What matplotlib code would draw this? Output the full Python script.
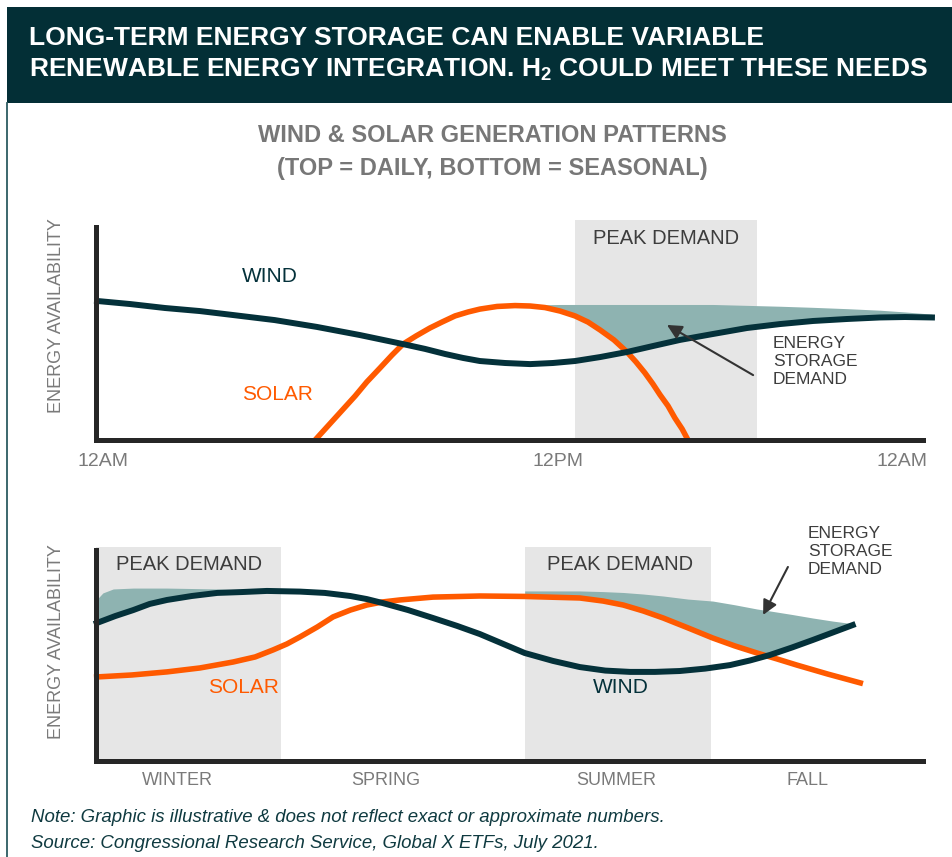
import matplotlib
matplotlib.use("Agg")
import matplotlib.pyplot as plt
from matplotlib.patches import Rectangle
from matplotlib.lines import Line2D

plt.rcParams['font.family'] = ['Liberation Sans', 'DejaVu Sans']
plt.rcParams['mathtext.default'] = 'regular'

W, H = 953, 857

# colours
HEADER = '#032f36'
WIND_C = '#04313a'
SOLAR_C = '#ff5a00'
STORE_C = '#8eb3b1'
PEAK_C = '#e6e6e6'
AXIS_C = '#262626'
GREY_TXT = '#7a7a7a'
DARK_TXT = '#3d3d3d'

# ---- daily pattern (x = hour of day, y = availability 0-10) ----
day_wind_x = [0.03, 0.99, 2.0, 3.02, 3.98, 5.19, 6.41, 7.66, 8.91, 9.55, 10.13, 10.65, 11.14, 11.87,
              12.6, 13.26, 13.9, 14.63, 15.41, 16.16, 16.95, 17.91, 18.89, 19.85, 20.81, 21.79,
              22.75, 23.48, 24.26]
day_wind_y = [6.32, 6.18, 6.0, 5.86, 5.68, 5.45, 5.14, 4.77, 4.36, 4.14, 3.91, 3.73, 3.59, 3.5,
              3.45, 3.5, 3.59, 3.77, 4.0, 4.27, 4.55, 4.82, 5.09, 5.27, 5.41, 5.5,
              5.57, 5.59, 5.57]

day_solar_x = [6.36, 6.65, 6.94, 7.23, 7.52, 7.86, 8.24, 8.59, 8.91, 9.29, 9.69, 10.04, 10.42, 10.8,
               11.14, 11.64, 12.16, 12.6, 13.03, 13.47, 13.9, 14.28, 14.63, 15.03, 15.41, 15.67,
               15.93, 16.16, 16.37, 16.6, 16.8, 17.01, 17.18]
day_solar_y = [0.0, 0.5, 1.0, 1.5, 2.0, 2.64, 3.27, 3.86, 4.36, 4.73, 5.09, 5.36, 5.64, 5.82,
               5.95, 6.07, 6.11, 6.09, 6.02, 5.86, 5.64, 5.36, 5.0, 4.55, 4.0, 3.55,
               3.05, 2.55, 2.05, 1.55, 1.0, 0.5, 0.0]

day_store_x = [12.16, 12.6, 13.03, 13.47, 13.9, 14.28, 14.63, 15.03, 15.41, 16.16, 16.95, 17.91,
               18.89, 19.85, 20.81, 21.79, 22.75, 23.48, 24.26]
day_store_hi = [6.11, 6.14, 6.15, 6.16, 6.16, 6.16, 6.16, 6.16, 6.16, 6.16, 6.16, 6.16,
                6.12, 6.08, 6.03, 5.97, 5.9, 5.82, 5.72]
day_store_lo = [6.11, 6.09, 6.02, 5.86, 5.64, 5.36, 5.0, 4.55, 4.0, 4.27, 4.55, 4.82,
                5.09, 5.27, 5.41, 5.5, 5.57, 5.59, 5.57]

day_peak = (13.9, 19.18)
day_tick_pos = [0.2, 13.4, 23.4]
day_tick_labels = ['12AM', '12PM', '12AM']

# ---- seasonal pattern (x = month, y = availability 0-10) ----
yr_wind_x = [0.01, 0.28, 0.54, 0.78, 1.03, 1.39, 1.76, 2.12, 2.48, 2.96, 3.32, 3.69, 3.93, 4.16,
             4.53, 4.89, 5.24, 5.57, 5.91, 6.22, 6.63, 7.02, 7.39, 7.75, 8.11, 8.47, 8.84, 9.2,
             9.49, 9.78, 10.1, 10.4, 10.69, 10.98]
yr_wind_y = [6.27, 6.59, 6.86, 7.14, 7.32, 7.5, 7.64, 7.68, 7.73, 7.7, 7.64, 7.5, 7.36, 7.18,
             6.86, 6.5, 6.14, 5.77, 5.32, 4.91, 4.55, 4.27, 4.11, 4.05, 4.05, 4.09, 4.2, 4.36,
             4.57, 4.82, 5.16, 5.5, 5.84, 6.18]

yr_solar_x = [0.01, 0.52, 1.03, 1.51, 1.99, 2.31, 2.57, 2.77, 2.96, 3.21, 3.44, 3.69, 3.93, 4.16,
              4.41, 4.89, 5.57, 6.22, 7.02, 7.36, 7.65, 7.94, 8.23, 8.59, 8.95, 9.27, 9.59, 9.88,
              10.17, 10.62, 11.09]
yr_solar_y = [3.82, 3.91, 4.05, 4.23, 4.5, 4.73, 5.05, 5.32, 5.64, 6.09, 6.55, 6.86, 7.09, 7.23,
              7.32, 7.45, 7.5, 7.48, 7.41, 7.27, 7.09, 6.82, 6.5, 6.05, 5.59, 5.23, 4.91, 4.64,
              4.36, 3.95, 3.55]

yr_store1_x = [0.0, 0.1, 0.25, 0.54, 1.03, 1.76, 2.48]
yr_store1_hi = [7.3, 7.64, 7.82, 7.86, 7.86, 7.82, 7.73]
yr_store1_lo = [6.27, 6.38, 6.55, 6.86, 7.32, 7.64, 7.73]

yr_store2_x = [6.22, 7.02, 7.36, 7.65, 7.94, 8.23, 8.59, 8.95, 9.27, 9.59, 9.78, 10.1, 10.4, 10.69, 10.98]
yr_store2_hi = [7.73, 7.73, 7.7, 7.66, 7.59, 7.5, 7.36, 7.27, 7.1, 6.91, 6.82, 6.66, 6.5, 6.36, 6.24]
yr_store2_lo = [7.48, 7.41, 7.27, 7.09, 6.82, 6.5, 6.05, 5.59, 5.23, 4.91, 4.82, 5.16, 5.5, 5.84, 6.18]

yr_peaks = [(0.0, 2.68), (6.22, 8.92)]
season_pos = [1.18, 4.21, 7.55, 10.32]
season_labels = ['WINTER', 'SPRING', 'SUMMER', 'FALL']


def fx(px):
    return px / W


def fy(py):
    return 1 - py / H


fig = plt.figure(figsize=(W / 100, H / 100), dpi=100)
fig.patch.set_facecolor('white')

# header band + left border
fig.add_artist(Rectangle((fx(7), fy(103)), fx(W) - fx(7), fy(7) - fy(103),
                         transform=fig.transFigure, color=HEADER, lw=0))
fig.add_artist(Line2D([fx(7.5), fx(7.5)], [fy(103), 0], transform=fig.transFigure,
                      color='#2c5c61', lw=1.3))
fig.text(fx(29), fy(38), 'LONG-TERM ENERGY STORAGE CAN ENABLE VARIABLE',
         color='white', fontsize=19, fontweight='bold', va='center', ha='left')
fig.text(fx(29), fy(70), 'RENEWABLE ENERGY INTEGRATION. H$_2$ COULD MEET THESE NEEDS',
         color='white', fontsize=19, fontweight='bold', va='center', ha='left')

fig.text(fx(492), fy(136), 'WIND & SOLAR GENERATION PATTERNS', color='#777777',
         fontsize=17, fontweight='bold', ha='center', va='center')
fig.text(fx(492), fy(168), '(TOP = DAILY, BOTTOM = SEASONAL)', color='#777777',
         fontsize=17, fontweight='bold', ha='center', va='center')


def style_axes(ax, ytop):
    for s in ['top', 'right']:
        ax.spines[s].set_visible(False)
    for s in ['left', 'bottom']:
        ax.spines[s].set_linewidth(3.6)
        ax.spines[s].set_color(AXIS_C)
        ax.spines[s].set_capstyle('projecting')
        ax.spines[s].set_zorder(4)
    ax.spines['left'].set_bounds(0, ytop)
    ax.set_yticks([])
    ax.tick_params(axis='x', length=0, labelsize=14, labelcolor=GREY_TXT, pad=9)
    ax.set_facecolor('none')


# ---------------- top: daily ----------------
ax1 = fig.add_axes([fx(96), fy(440), fx(923) - fx(96), fy(220) - fy(440)])
ax1.set_xlim(0, 24)
ax1.set_ylim(0, 10)
style_axes(ax1, 9.7)
ax1.axvspan(day_peak[0], day_peak[1], color=PEAK_C, lw=0, zorder=0)
ax1.fill_between(day_store_x, day_store_lo, day_store_hi, color=STORE_C, lw=0,
                 zorder=1, clip_on=False)
ax1.plot(day_wind_x, day_wind_y, color=WIND_C, lw=4.3, solid_joinstyle='round',
         zorder=3, clip_on=False)
ax1.plot(day_solar_x, day_solar_y, color=SOLAR_C, lw=4.0, solid_joinstyle='round',
         solid_capstyle='butt', zorder=2, clip_on=False)
ax1.set_xticks(day_tick_pos, day_tick_labels)
ax1.text(4.24, 7.41, 'WIND', color=WIND_C, fontsize=15, va='center')
ax1.text(4.24, 2.05, 'SOLAR', color=SOLAR_C, fontsize=15, va='center')
ax1.text(16.54, 9.18, 'PEAK DEMAND', color=DARK_TXT, fontsize=14.5, ha='center', va='center')
ax1.text(19.65, 3.59, 'ENERGY\nSTORAGE\nDEMAND', color=DARK_TXT, fontsize=12.5,
         ha='left', va='center', linespacing=1.25)
ax1.annotate('', xy=(16.57, 5.23), xytext=(19.07, 2.95),
             arrowprops=dict(arrowstyle='-|>', color='#333333', lw=1.5,
                             mutation_scale=22, shrinkA=0, shrinkB=0), zorder=5)
fig.text(fx(57), fy(316), 'ENERGY AVAILABILITY', rotation=90, color=GREY_TXT,
         fontsize=13, ha='center', va='center')

# ---------------- bottom: seasonal ----------------
ax2 = fig.add_axes([fx(96), fy(761), fx(923) - fx(96), fy(541) - fy(761)])
ax2.set_xlim(0, 12)
ax2.set_ylim(0, 10)
style_axes(ax2, 9.6)
for x0, x1 in yr_peaks:
    ax2.fill_between([x0, x1], 0, 9.75, color=PEAK_C, lw=0, zorder=0)
ax2.fill_between(yr_store1_x, yr_store1_lo, yr_store1_hi, color=STORE_C, lw=0, zorder=1)
ax2.fill_between(yr_store2_x, yr_store2_lo, yr_store2_hi, color=STORE_C, lw=0, zorder=1)
ax2.plot(yr_solar_x, yr_solar_y, color=SOLAR_C, lw=4.0, solid_joinstyle='round',
         zorder=2, clip_on=False)
ax2.plot(yr_wind_x, yr_wind_y, color=WIND_C, lw=4.3, solid_joinstyle='round',
         zorder=3, clip_on=False)
ax2.set_xticks(season_pos, season_labels)
ax2.tick_params(axis='x', labelsize=13, pad=8)
ax2.text(1.35, 8.91, 'PEAK DEMAND', color=DARK_TXT, fontsize=14.5, ha='center', va='center')
ax2.text(7.60, 8.91, 'PEAK DEMAND', color=DARK_TXT, fontsize=14.5, ha='center', va='center')
ax2.text(1.63, 3.32, 'SOLAR', color=SOLAR_C, fontsize=15, va='center')
ax2.text(7.21, 3.32, 'WIND', color=WIND_C, fontsize=15, va='center')
ax2.text(10.33, 9.5, 'ENERGY\nSTORAGE\nDEMAND', color=DARK_TXT, fontsize=12.5,
         ha='left', va='center', linespacing=1.25, clip_on=False)
ax2.annotate('', xy=(9.68, 6.64), xytext=(10.04, 8.82),
             arrowprops=dict(arrowstyle='-|>', color='#333333', lw=1.5,
                             mutation_scale=22, shrinkA=0, shrinkB=0), zorder=5)
fig.text(fx(57), fy(642), 'ENERGY AVAILABILITY', rotation=90, color=GREY_TXT,
         fontsize=13, ha='center', va='center')

# footnote
fig.text(fx(31), fy(818), 'Note: Graphic is illustrative & does not reflect exact or approximate numbers.',
         color='#0f3a40', fontsize=13.4, style='italic', va='center')
fig.text(fx(31), fy(843), 'Source: Congressional Research Service, Global X ETFs, July 2021.',
         color='#0f3a40', fontsize=13.4, style='italic', va='center')

fig.savefig('out.png', dpi=100)
